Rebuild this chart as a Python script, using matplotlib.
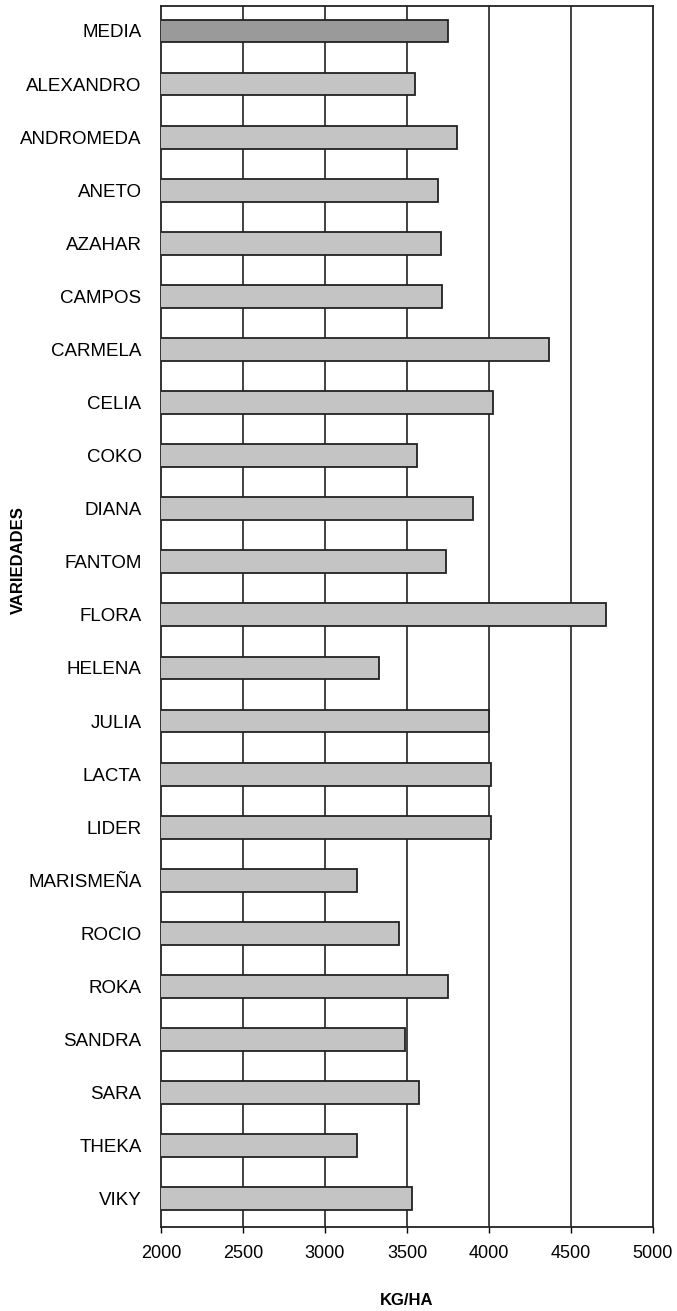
import matplotlib.pyplot as plt

plt.rcParams['font.family'] = ['Liberation Sans', 'DejaVu Sans']

variedades = ["MEDIA", "ALEXANDRO", "ANDROMEDA", "ANETO", "AZAHAR", "CAMPOS",
              "CARMELA", "CELIA", "COKO", "DIANA", "FANTOM", "FLORA", "HELENA",
              "JULIA", "LACTA", "LIDER", "MARISMEÑA", "ROCIO", "ROKA", "SANDRA",
              "SARA", "THEKA", "VIKY"]
kg_ha = [3750, 3550, 3805, 3690, 3710, 3715,
         4365, 4025, 3560, 3905, 3740, 4715, 3330,
         4000, 4015, 4012, 3195, 3450, 3750, 3490,
         3575, 3195, 3530]
ticks_x = [2000, 2500, 3000, 3500, 4000, 4500, 5000]

fig = plt.figure(figsize=(6.77, 13.11), dpi=100)
ax = fig.add_axes([0.2378, 0.0641, 0.7267, 0.9313])

colores = ["#9a9a9a"] + ["#c4c4c4"] * (len(variedades) - 1)
pos = list(range(len(variedades)))
ax.barh(pos, kg_ha, height=0.43, color=colores, edgecolor="#222222", linewidth=1.3, zorder=3)

ax.set_xlim(2000, 5000)
ax.set_ylim(len(variedades) - 0.47, -0.47)
ax.set_xticks(ticks_x)
ax.set_xticklabels([str(t) for t in ticks_x], fontsize=13)
ax.set_yticks(pos)
ax.set_yticklabels(variedades, fontsize=13.5)
ax.tick_params(axis="y", length=0, pad=14)
ax.tick_params(axis="x", length=4, width=1, pad=9)

for x in ticks_x[1:-1]:
    ax.axvline(x, color="#222222", linewidth=1.2, zorder=1)

for s in ax.spines.values():
    s.set_color("#222222")
    s.set_linewidth(1.3)

ax.set_xlabel("KG/HA", fontsize=12, fontweight="bold", labelpad=22)
fig.text(18 / 677, 1 - 560 / 1311, "VARIEDADES", rotation=90, fontsize=12,
         fontweight="bold", ha="center", va="center")

fig.savefig("out.png", dpi=100)
